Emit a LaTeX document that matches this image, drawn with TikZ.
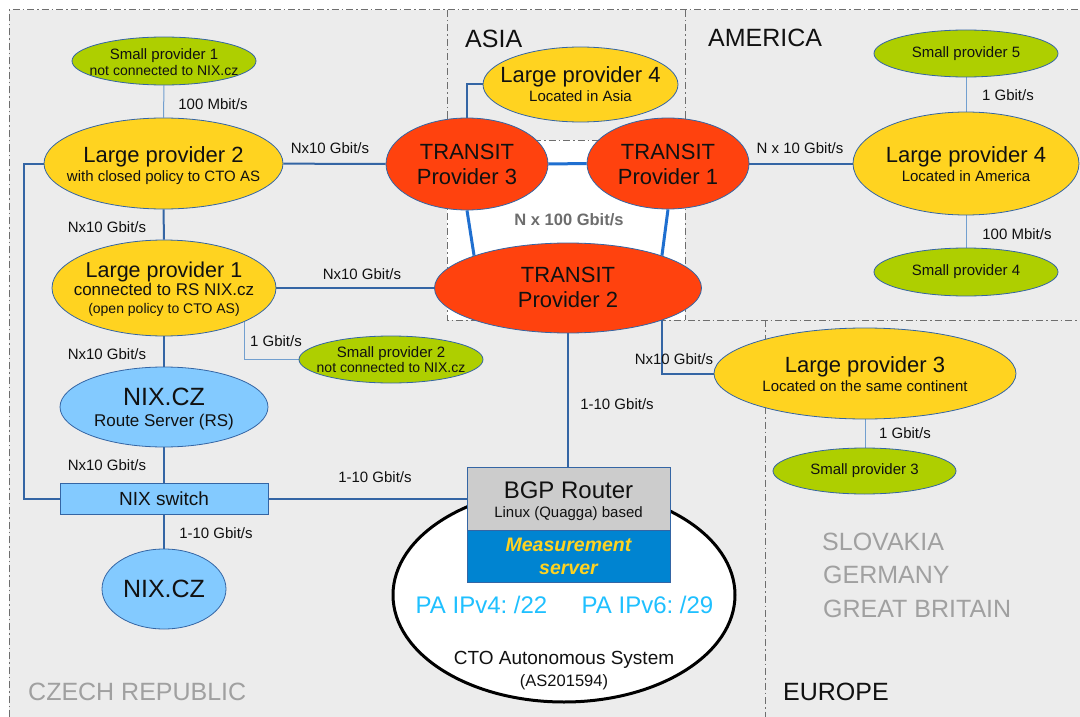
\documentclass[tikz,border=0pt]{standalone}
\usepackage{fontspec}
\setmainfont{Liberation Sans}
\usetikzlibrary{shapes.geometric,calc}
\frenchspacing
\definecolor{bgc}{HTML}{ECECEC}
\definecolor{lgreen}{HTML}{AECF00}
\definecolor{lyellow}{HTML}{FFD320}
\definecolor{lred}{HTML}{FF420E}
\definecolor{lblue}{HTML}{83CAFF}
\definecolor{dblue}{HTML}{0084D1}
\definecolor{edgec}{HTML}{3465A4}
\definecolor{thinl}{HTML}{729FCF}
\definecolor{thickl}{HTML}{1F6FD0}
\definecolor{regtxt}{HTML}{A0A0A0}
\definecolor{cyantxt}{HTML}{1FC0FF}
\definecolor{bordc}{HTML}{6E6E6E}
\definecolor{txtc}{HTML}{111111}
\definecolor{bgpgray}{HTML}{CCCCCC}
\definecolor{nxgray}{HTML}{6D6D6D}
\newcommand\fsz[2]{\fontsize{#1}{#2}\selectfont}
\newcommand\blk[1]{\fontsize{10}{#1}\selectfont\lineskiplimit=-100pt\relax}
\pgfdeclarelayer{back}
\pgfdeclarelayer{edges}
\pgfsetlayers{back,edges,main}
\begin{document}
\begin{tikzpicture}[x=1pt,y=-1pt,
  every node/.style={text=txtc},
  ell/.style={ellipse, draw=edgec, line width=0.8pt, inner sep=0pt},
  smallp/.style={ell, fill=lgreen},
  largep/.style={ell, fill=lyellow},
  transit/.style={ell, fill=lred},
  nixell/.style={ell, fill=lblue},
  tx/.style={inner sep=0pt, align=center},
  link/.style={draw=edgec, line width=2pt},
  thinlink/.style={draw=thinl, line width=1pt},
  bblink/.style={draw=thickl, line width=3pt},
  lbl/.style={font=\fsz{15}{18}, inner sep=0pt},
  region/.style={draw=bordc, line width=1pt, dash pattern=on 7pt off 3pt on 1.5pt off 3pt},
  regname/.style={font=\fsz{25}{30}, inner sep=0pt, anchor=west},
]
\useasboundingbox (0,0) rectangle (1080,717);
\begin{pgfonlayer}{back}
\fill[white] (0,0) rectangle (1080,717);
\fill[bgc] (9,10) rectangle (1080,717);
\fill[white] (447,140) rectangle (685,320);
\draw[region] (9,717) -- (9,10) -- (1080,10);
\draw[region] (447,10) -- (447,320) -- (1080,320);
\draw[region] (685,10) -- (685,320);
\draw[region] (447,140) -- (685,140);
\draw[region] (765,320) -- (765,717);
\end{pgfonlayer}

% ---------- shapes ----------
\node[smallp, minimum width=184, minimum height=48] (sp1) at (164,61) {};
\node[largep, minimum width=239, minimum height=91] (lp2) at (163.5,163.5) {};
\node[largep, minimum width=224, minimum height=96] (lp1) at (164,288) {};
\node[smallp, minimum width=184, minimum height=47] (sp2) at (391,359.5) {};
\node[nixell, minimum width=208, minimum height=80] (rs) at (164,407) {};
\node[draw=edgec, fill=lblue, line width=0.8pt, minimum width=208, minimum height=31, inner sep=0pt] (sw) at (164,498.5) {};
\node[nixell, minimum width=124, minimum height=80] (nix) at (164,589) {};
\node[largep, minimum width=195, minimum height=75] (lp4a) at (580.5,84.5) {};
\node[transit, minimum width=162, minimum height=92] (tp3) at (467,164) {};
\node[transit, minimum width=162, minimum height=91] (tp1) at (668,163.5) {};
\node[transit, minimum width=267, minimum height=90] (tp2) at (568,288) {};
\node[smallp, minimum width=184, minimum height=47] (sp5) at (966,53.5) {};
\node[largep, minimum width=226, minimum height=103] (lp4) at (966,163.5) {};
\node[smallp, minimum width=184, minimum height=48] (sp4) at (966,272) {};
\node[largep, minimum width=302, minimum height=91] (lp3) at (865,373.5) {};
\node[smallp, minimum width=183, minimum height=46] (sp3) at (864.5,471) {};
\node[ellipse, draw=black, fill=white, line width=3pt, minimum width=342, minimum height=214, inner sep=0pt] (cto) at (564,595) {};
\node[draw=edgec, fill=bgpgray, line width=0.8pt, minimum width=203, minimum height=63, inner sep=0pt] (bgp) at (568.5,498.5) {};
\node[draw=edgec, fill=dblue, line width=0.8pt, minimum width=203, minimum height=52, inner sep=0pt] (meas) at (568.5,556) {};

% ---------- texts in shapes ----------
\node[tx, font=\blk{16}] (sp1t) at (164,62.5) {\fsz{15}{16}Small provider 1\\\fsz{14}{16}not connected to NIX.cz};
\node[tx, font=\blk{19}] (lp2t) at (163.5,166) {\fsz{22}{19}Large provider 2\\\fsz{15}{19}with closed policy to CTO AS};
\node[tx, font=\blk{18}] (lp1t) at (164,289) {\fsz{21.5}{18}Large provider 1\\\fsz{17}{18}connected to RS NIX.cz\\\fsz{14}{18}(open policy to CTO AS)};
\node[tx, font=\blk{15}] (sp2t) at (391,360) {\fsz{15}{15}Small provider 2\\\fsz{14}{15}not connected to NIX.cz};
\node[tx, font=\blk{21}] (rst) at (164,409.3) {\fsz{25}{21}NIX.CZ\\\fsz{17}{21}Route Server (RS)};
\node[tx, font=\fsz{19}{22}] (swt) at (164,498.5) {NIX switch};
\node[tx, font=\fsz{25}{28}] (nixt) at (164,589) {NIX.CZ};
\node[tx, font=\blk{19}] (lp4at) at (580.5,84.5) {\fsz{22}{19}Large provider 4\\\fsz{15}{19}Located in Asia};
\node[tx, font=\blk{25}] (tp3t) at (467,164.6) {\fsz{22}{25}TRANSIT\\\fsz{22}{25}Provider 3};
\node[tx, font=\blk{25}] (tp1t) at (668,164.6) {\fsz{22}{25}TRANSIT\\\fsz{22}{25}Provider 1};
\node[tx, font=\blk{25}] (tp2t) at (568,287.6) {\fsz{22}{25}TRANSIT\\\fsz{22}{25}Provider 2};
\node[tx, font=\fsz{15}{18}] (sp5t) at (966,53.5) {Small provider 5};
\node[tx, font=\blk{19}] (lp4t) at (966,164.5) {\fsz{22}{19}Large provider 4\\\fsz{15}{19}Located in America};
\node[tx, font=\fsz{15}{18}] (sp4t) at (966,272) {Small provider 4};
\node[tx, font=\blk{19}] (lp3t) at (865,374.5) {\fsz{22}{19}Large provider 3\\\fsz{15}{19}Located on the same continent};
\node[tx, font=\fsz{15}{18}] (sp3t) at (864.5,471) {Small provider 3};
\node[tx, font=\blk{19}] (bgpt) at (568.5,501.3) {\fsz{24}{19}BGP Router\\\fsz{15}{19}Linux (Quagga) based};
\node[tx, font=\blk{23}, text=lyellow] (meast) at (568.5,556.5) {\fsz{19.5}{23}\bfseries\itshape Measurement\\\fsz{19.5}{23}\bfseries\itshape server};
\node[tx, font=\fsz{24}{28}, text=cyantxt] (ipv4) at (481.5,605) {PA IPv4: /22};
\node[tx, font=\fsz{24}{28}, text=cyantxt] (ipv6) at (647.5,605) {PA IPv6: /29};
\node[tx, font=\fsz{19}{22}] (ctoname) at (564,660) {CTO Autonomous System};
\node[tx, font=\fsz{16.5}{20}] (asn) at (564,682) {(AS201594)};

% ---------- region names ----------
\node[regname] (asia) at (465,39) {ASIA};
\node[regname] (america) at (708,38) {AMERICA};
\node[regname, text=regtxt] (czech) at (28,692) {CZECH REPUBLIC};
\node[regname] (europe) at (783,692) {EUROPE};
\node[regname, text=regtxt] (sk) at (822,542) {SLOVAKIA};
\node[regname, text=regtxt] (de) at (823,575) {GERMANY};
\node[regname, text=regtxt] (gb) at (823,609) {GREAT BRITAIN};

% ---------- link labels ----------
\node[lbl] (l1) at (213,104) {100 Mbit/s};
\node[lbl] (l2) at (330,148) {Nx10 Gbit/s};
\node[lbl] (l3) at (107,227) {Nx10 Gbit/s};
\node[lbl] (l4) at (362,274) {Nx10 Gbit/s};
\node[lbl] (l5) at (276,341) {1 Gbit/s};
\node[lbl] (l6) at (107,354) {Nx10 Gbit/s};
\node[lbl] (l7) at (107,465) {Nx10 Gbit/s};
\node[lbl] (l8) at (375,477) {1-10 Gbit/s};
\node[lbl] (l9) at (216,533) {1-10 Gbit/s};
\node[lbl] (l10) at (800,148) {N x 10 Gbit/s};
\node[lbl] (l11) at (1008,95) {1 Gbit/s};
\node[lbl] (l12) at (1017,234) {100 Mbit/s};
\node[lbl] (l13) at (617,404.5) {1-10 Gbit/s};
\node[lbl] (l14) at (674,359) {Nx10 Gbit/s};
\node[lbl] (l15) at (905,433) {1 Gbit/s};
\node[font=\fsz{16.5}{20}\bfseries, text=nxgray, inner sep=0pt] (nx100) at (569,220) {N x 100 Gbit/s};

\coordinate (c1) at (24,163.5);

\begin{pgfonlayer}{edges}
\draw[thinlink] (sp1.south) -- (lp2.north);
\draw[link] (lp2) -- (tp3);
\draw[link] (lp2.south) -- (lp1.north);
\draw[link] (lp2.west) -- (c1) |- (sw.west);
\draw[link] (lp1) -- (tp2);
\draw[thinlink] (lp1.-23) |- (sp2.west);
\draw[link] (lp1.south) -- (rs.north);
\draw[link] (rs.south) -- (sw.north);
\draw[link] (sw.south) -- (nix.north);
\draw[link] (sw.east) -- (bgp.west);
\draw[link] (lp4a.west) -| (tp3.north);
\draw[bblink] (tp3.east) -- (tp1.west);
\draw[bblink] (tp3.south) -- (tp2.161);
\draw[bblink] (tp1.south) -- (tp2.19);
\draw[link] (tp1.east) -- (lp4.west);
\draw[thinlink] (sp5.south) -- (lp4.north);
\draw[thinlink] (lp4.south) -- (sp4.north);
\draw[link] (tp2.south) -- (tp2.south |- bgp.north);
\draw[link] (tp2.-19) |- (lp3.west);
\draw[thinlink] (lp3.south) -- (lp3.south |- sp3.north);
\end{pgfonlayer}
\end{tikzpicture}
\end{document}
